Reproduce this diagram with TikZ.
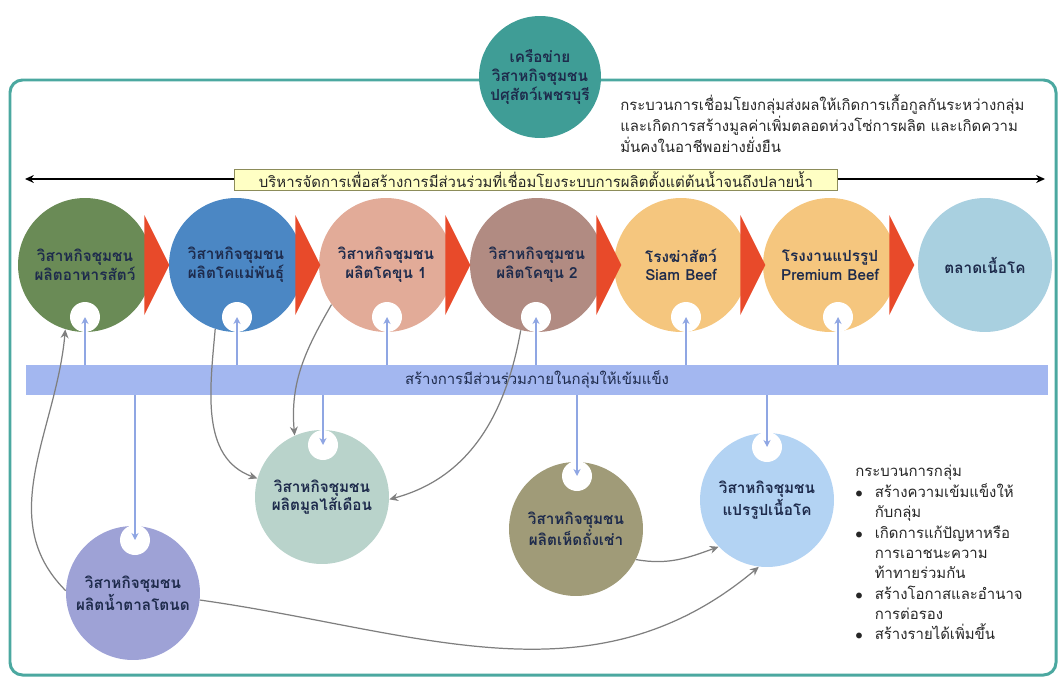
\documentclass[tikz,border=0pt]{standalone}
\usepackage{fontspec}
\setmainfont[Script=Thai]{Loma}
\usetikzlibrary{arrows.meta}

\definecolor{frameteal}{HTML}{4BA8A0}
\definecolor{netteal}{HTML}{3F9D96}
\definecolor{cgreen}{HTML}{6A8B56}
\definecolor{cblue}{HTML}{4B87C4}
\definecolor{csalmon}{HTML}{E2AB98}
\definecolor{cmauve}{HTML}{B18B82}
\definecolor{corange}{HTML}{F5C67E}
\definecolor{cmarket}{HTML}{A9D0E0}
\definecolor{cband}{HTML}{A3B7F0}
\definecolor{cworm}{HTML}{B9D3CB}
\definecolor{cpalm}{HTML}{9EA2D6}
\definecolor{cmush}{HTML}{A09B78}
\definecolor{cproc}{HTML}{B3D3F3}
\definecolor{redtri}{HTML}{E84A2A}
\definecolor{bluearr}{HTML}{8FA6E3}
\definecolor{grayarr}{HTML}{7F7F7F}
\definecolor{navytx}{HTML}{1E2B4C}
\definecolor{yelbox}{HTML}{FFFFC4}
\definecolor{yelline}{HTML}{8C8C5A}

\tikzset{
  firm/.style={circle, minimum size=2.68cm, inner sep=0pt, align=center,
    text=navytx, font=\bfseries\fontsize{8.7}{10.6}\selectfont},
  hole/.style={circle, fill=white, minimum size=0.6cm, inner sep=0pt},
  flowtri/.style={fill=redtri},
  bandarr/.style={draw=bluearr, line width=0.7pt, -{Stealth[length=4pt,width=4pt]}},
  curvearr/.style={draw=grayarr, line width=0.7pt, -{Stealth[length=5pt,width=4.5pt]}},
  axisline/.style={line width=0.9pt, -{Stealth[length=5pt,width=4.5pt]}},
  txt/.style={font=\fontsize{8.5}{10.6}\selectfont, text=black!85, inner sep=0pt}
}

\begin{document}
\begin{tikzpicture}[x=0.02cm,y=-0.02cm]
\useasboundingbox (0,0) rectangle (1060,679);

\draw[frameteal, line width=1.7pt, rounded corners=0.25cm] (10,80) rectangle (1056,675);

\node[firm, fill=netteal, minimum size=2.44cm] (network) at (540,77)
  {เครือข่าย\\วิสาหกิจชุมชน\\ปศุสัตว์เพชรบุรี};

\node[txt, anchor=north west, align=left] (goal) at (620,94)
  {กระบวนการเชื่อมโยงกลุ่มส่งผลให้เกิดการเกื้อกูลกันระหว่างกลุ่ม\\
   และเกิดการสร้างมูลค่าเพิ่มตลอดห่วงโซ่การผลิต และเกิดความ\\
   มั่นคงในอาชีพอย่างยั่งยืน};

\node[txt, draw=yelline, fill=yelbox, minimum width=12.06cm, minimum height=0.42cm]
  (mgmt) at (536,180)
  {บริหารจัดการเพื่อสร้างการมีส่วนร่วมที่เชื่อมโยงระบบการผลิตตั้งแต่ต้นน้ำจนถึงปลายน้ำ};
\coordinate (lend) at (25,179);
\coordinate (rend) at (1045,179);
\draw[axisline] (mgmt.west |- lend) -- (lend);
\draw[axisline] (mgmt.east |- rend) -- (rend);

\node[firm, fill=cgreen]   (feedmill)  at (85,265)  {วิสาหกิจชุมชน\\ผลิตอาหารสัตว์};
\node[firm, fill=cblue]    (breeder)   at (236,265) {วิสาหกิจชุมชน\\ผลิตโคแม่พันธุ์};
\node[firm, fill=csalmon]  (fatten1)   at (386,265) {วิสาหกิจชุมชน\\ผลิตโคขุน 1};
\node[firm, fill=cmauve]   (fatten2)   at (537,265) {วิสาหกิจชุมชน\\ผลิตโคขุน 2};
\node[firm, fill=corange]  (slaughter) at (681,265) {โรงฆ่าสัตว์\\Siam Beef};
\node[firm, fill=corange]  (factory)   at (830,265) {โรงงานแปรรูป\\Premium Beef};
\node[firm, fill=cmarket]  (market)    at (985,265) {ตลาดเนื้อโค};

\node[hole] (h1) at (85,317)  {};
\node[hole] (h2) at (237,317) {};
\node[hole] (h3) at (387,317) {};
\node[hole] (h4) at (536,317) {};
\node[hole] (h5) at (686,317) {};
\node[hole] (h6) at (838,317) {};

\foreach \n in {feedmill,breeder,fatten1,fatten2,slaughter,factory}
  \fill[flowtri] ([shift={(-8,-50)}]\n.east) -- ([shift={(-8,50)}]\n.east)
    -- ([shift={(17,0)}]\n.east) -- cycle;

\node[minimum width=20.46cm, minimum height=0.6cm, fill=cband, inner sep=0pt,
  text=navytx, font=\fontsize{8.5}{10.3}\selectfont] (band) at (537,380)
  {สร้างการมีส่วนร่วมภายในกลุ่มให้เข้มแข็ง};

\foreach \h in {h1,h2,h3,h4,h5,h6}
  \draw[bandarr] (band.north -| \h) -- (\h.center);

\node[firm, fill=cworm] (worm)     at (322,497) {วิสาหกิจชุมชน\\ผลิตมูลไส้เดือน};
\node[firm, fill=cpalm] (palm)     at (133,593) {วิสาหกิจชุมชน\\ผลิตน้ำตาลโตนด};
\node[firm, fill=cmush] (mush)     at (576,529) {วิสาหกิจชุมชน\\ผลิตเห็ดถั่งเช่า};
\node[firm, fill=cproc] (meatproc) at (767,500) {วิสาหกิจชุมชน\\แปรรูปเนื้อโค};

\node[hole] (h7)  at (135,540) {};
\node[hole] (h8)  at (323,445) {};
\node[hole] (h9)  at (577,476) {};
\node[hole] (h10) at (767,447) {};

\foreach \h in {h7,h8,h9,h10}
  \draw[bandarr] (band.south -| \h) -- (\h.center);

\draw[curvearr] (palm.178) to[out=135,in=-95] (feedmill.-107);
\draw[curvearr] (breeder.-108) to[out=-95,in=160] (worm.164);
\draw[curvearr] (fatten1.-144) to[out=-120,in=95] (worm.114);
\draw[curvearr] (fatten2.-104) to[out=-100,in=15] (worm.-2);
\draw[curvearr] (mush.-27) to[out=-10,in=-160] (meatproc.-136);
\draw[curvearr] (palm.-6) to[out=-8,in=-140] (meatproc.-97);

\node[txt, anchor=north west, align=left, font=\fontsize{8.5}{11.6}\selectfont]
  (steps) at (855,465)
  {กระบวนการกลุ่ม\\
   \makebox[1.3em][l]{$\bullet$}สร้างความเข้มแข็งให้\\
   \hspace*{1.3em}กับกลุ่ม\\
   \makebox[1.3em][l]{$\bullet$}เกิดการแก้ปัญหาหรือ\\
   \hspace*{1.3em}การเอาชนะความ\\
   \hspace*{1.3em}ท้าทายร่วมกัน\\
   \makebox[1.3em][l]{$\bullet$}สร้างโอกาสและอำนาจ\\
   \hspace*{1.3em}การต่อรอง\\
   \makebox[1.3em][l]{$\bullet$}สร้างรายได้เพิ่มขึ้น};

\end{tikzpicture}
\end{document}
